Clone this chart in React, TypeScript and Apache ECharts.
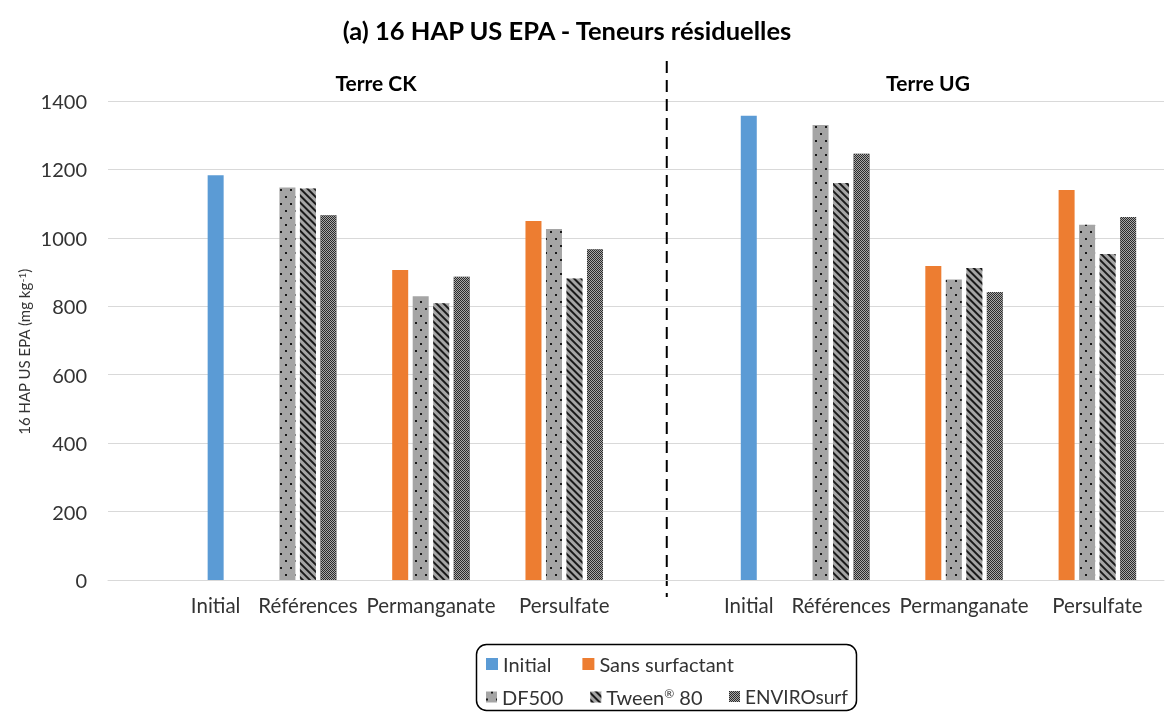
import React, { useEffect, useRef } from 'react';
import * as echarts from 'echarts';

// ---------- data ----------
const soils = ['Terre CK', 'Terre UG'];
const groupLabels = ['Initial', 'Références', 'Permanganate', 'Persulfate'];
const seriesNames = ['Initial', 'Sans surfactant', 'DF500', 'Tween® 80', 'ENVIROsurf'];
// one value per soil (CK, UG)
const initialValues = [1183, 1357];
// per soil: [Références, Permanganate, Persulfate]
const sansSurfactantValues = [[null, 906, 1049], [null, 918, 1140]];
const df500Values = [[1147, 829, 1026], [1330, 878, 1038]];
const tween80Values = [[1144, 809, 881], [1160, 912, 953]];
const envirosurfValues = [[1066, 886, 967], [1246, 842, 1061]];
const yMin = 0;
const yMax = 1400;
const yStep = 200;

// ---------- layout (half-bar slots on a category axis) ----------
const LEAD = 10;
const BAR_STEP = 2;
const GROUP_GAP = 7;
const SOIL_GAP = 15;
const TRAIL = 3;

function buildLayout() {
  const placed: { s: number; idx: number; v: number }[] = [];
  const labelAt: Record<number, string> = {};
  const dividers: number[] = [];
  let cursor = LEAD;
  let lastBar = 0;
  soils.forEach((_, si) => {
    groupLabels.forEach((g, gi) => {
      let bars: [number, number | null][];
      if (gi === 0) bars = [[0, initialValues[si]]];
      else {
        const t = gi - 1;
        bars = [
          [1, sansSurfactantValues[si][t]],
          [2, df500Values[si][t]],
          [3, tween80Values[si][t]],
          [4, envirosurfValues[si][t]],
        ];
      }
      const real = bars.filter((b) => b[1] !== null) as [number, number][];
      const first = cursor;
      real.forEach(([s, v], k) => placed.push({ s, idx: cursor + k * BAR_STEP, v }));
      lastBar = first + (real.length - 1) * BAR_STEP;
      labelAt[(first + lastBar) / 2] = g;
      cursor = lastBar + GROUP_GAP;
    });
    if (si < soils.length - 1) {
      dividers.push(lastBar + GROUP_GAP);
      cursor = lastBar + SOIL_GAP;
    }
  });
  const total = lastBar + 1 + TRAIL;
  const cats = Array.from({ length: total }, (_, i) => 'c' + i);
  const seriesData = seriesNames.map((_, s) => {
    const arr: (number | string)[] = Array(total).fill('-');
    placed.filter((p) => p.s === s).forEach((p) => (arr[p.idx] = p.v));
    return arr;
  });
  return { cats, seriesData, labelAt, dividers };
}

const FONT = 'Lato, "Open Sans", sans-serif';
const TXT = '#333333';

export default function App() {
  const ref = useRef<HTMLDivElement>(null);
  useEffect(() => {
    if (!ref.current) return;
    const chart = echarts.init(ref.current, null, { renderer: 'svg' });
    const { cats, seriesData, labelAt, dividers } = buildLayout();

    const styles: any[] = [
      { color: '#5B9BD5' },
      { color: '#ED7D31' },
      {
        color: '#A5A5A5',
        decal: {
          symbol: 'rect',
          symbolSize: 1,
          color: '#1a1a1a',
          dashArrayX: [[2, 8], [0, 5, 2, 3]],
          dashArrayY: [2, 5],
        },
      },
      {
        color: '#A5A5A5',
        decal: {
          symbol: 'rect',
          symbolSize: 1,
          color: '#1a1a1a',
          dashArrayX: [1, 0],
          dashArrayY: [2, 3],
          rotation: Math.PI / 4,
        },
      },
      {
        color: '#2b2b2b',
        decal: {
          symbol: 'rect',
          symbolSize: 1,
          color: '#a8a8a8',
          dashArrayX: [[1, 1], [0, 1, 1, 0]],
          dashArrayY: [1, 0],
        },
      },
    ];

    const legendBase = {
      icon: 'rect',
      itemWidth: 12,
      itemHeight: 12,
      padding: 0,
      textStyle: { color: TXT, fontSize: 20, fontFamily: FONT },
    };

    chart.setOption({
      animation: false,
      textStyle: { fontFamily: FONT },
      grid: { left: 108, right: 2, top: 101, bottom: 133, containLabel: false },
      xAxis: {
        type: 'category',
        data: cats,
        axisTick: { show: false },
        axisLine: { lineStyle: { color: '#D9D9D9', width: 1 } },
        axisLabel: {
          interval: 0,
          formatter: (_v: string, i: number) => labelAt[i] ?? '',
          color: TXT,
          fontSize: 20.5,
          fontFamily: FONT,
          margin: 14,
        },
      },
      yAxis: {
        type: 'value',
        min: yMin,
        max: yMax,
        interval: yStep,
        axisLine: { show: false },
        axisTick: { show: false },
        splitLine: { lineStyle: { color: '#D9D9D9', width: 1 } },
        axisLabel: {
          color: TXT,
          fontSize: 20,
          fontFamily: FONT,
          margin: 21,
          formatter: (v: number) => String(v),
        },
      },
      legend: [
        { ...legendBase, data: seriesNames.slice(0, 2), left: 486, top: 654, itemGap: 31 },
        {
          ...legendBase,
          data: seriesNames.slice(2, 4),
          left: 486,
          top: 687,
          itemWidth: 11,
          itemHeight: 11,
          itemGap: 27,
          formatter: (n: string) => (n === 'Tween® 80' ? '{a|Tween}{s|®}{a| 80}' : n),
          textStyle: {
            color: TXT,
            fontSize: 20,
            fontFamily: FONT,
            rich: {
              a: { fontSize: 20, fontFamily: FONT, color: TXT },
              s: { fontSize: 12, fontFamily: FONT, color: TXT, verticalAlign: 'top' },
            },
          },
        },
        {
          ...legendBase,
          data: seriesNames.slice(4),
          left: 729,
          top: 687,
          itemWidth: 11,
          itemHeight: 11,
          textStyle: { color: TXT, fontSize: 19, fontFamily: FONT },
        },
      ],
      series: seriesNames.map((name, s) => ({
        name,
        type: 'bar',
        data: seriesData[s],
        barWidth: 16,
        barGap: '-100%',
        itemStyle: styles[s],
      })),
    });

    const divX = dividers.map((d) => chart.convertToPixel({ xAxisIndex: 0 }, d) as number);

    chart.setOption({
      graphic: [
        {
          type: 'text',
          x: 567,
          y: 30,
          style: {
            text: '(a) 16 HAP US EPA - Teneurs résiduelles',
            font: `bold 25.5px ${FONT}`,
            fill: '#000',
            align: 'center',
            verticalAlign: 'middle',
          },
        },
        ...soils.map((s, i) => ({
          type: 'text',
          x: i === 0 ? 376 : 928,
          y: 82,
          style: {
            text: s,
            font: `bold 21px ${FONT}`,
            fill: '#000',
            align: 'center',
            verticalAlign: 'middle',
          },
        })),
        {
          type: 'text',
          x: 24,
          y: 352,
          rotation: Math.PI / 2,
          style: {
            text: '{a|16 HAP US EPA (mg kg}{s|-1}{a|)}',
            rich: {
              a: { fontSize: 15, fontFamily: FONT, fill: TXT },
              s: { fontSize: 10, fontFamily: FONT, fill: TXT, verticalAlign: 'top' },
            },
            align: 'center',
            verticalAlign: 'middle',
          },
        },
        ...divX.map((x) => ({
          type: 'line',
          shape: { x1: x, y1: 61, x2: x, y2: 597 },
          style: { stroke: '#000', lineWidth: 2, lineDash: [12, 7] },
        })),
        {
          type: 'rect',
          shape: { x: 476.5, y: 644.5, width: 380, height: 66, r: 10 },
          style: { fill: 'none', stroke: '#000', lineWidth: 1.5 },
          z: -1,
        },
      ],
    });

    return () => chart.dispose();
  }, []);
  return <div ref={ref} style={{ position: 'fixed', left: 0, top: 0, width: 1166, height: 713 }} />;
}
